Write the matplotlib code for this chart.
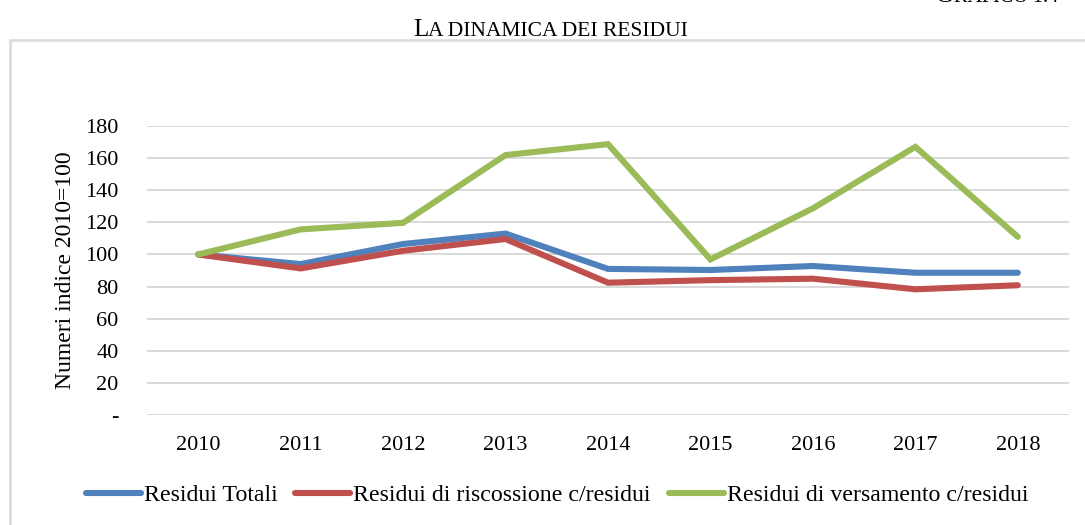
import matplotlib
matplotlib.use("Agg")
import matplotlib.pyplot as plt
from matplotlib.patches import Rectangle

years = ["2010", "2011", "2012", "2013", "2014", "2015", "2016", "2017", "2018"]
residui_totali = [100, 94, 106.5, 113, 91, 90.3, 92.8, 88.6, 88.6]
residui_riscossione = [100, 91.3, 102.3, 109.6, 82.4, 84, 84.9, 78.3, 80.8]
residui_versamento = [100, 115.6, 119.7, 161.9, 168.7, 96.9, 128.7, 167, 111]
series_names = ["Residui Totali", "Residui di riscossione c/residui",
                "Residui di versamento c/residui"]
yticks = [0, 20, 40, 60, 80, 100, 120, 140, 160, 180]
ytick_labels = ["-", "20", "40", "60", "80", "100", "120", "140", "160", "180"]

plt.rcParams['font.family'] = ['Liberation Serif', 'DejaVu Serif']

W, H = 1085, 525
fig = plt.figure(figsize=(W / 100, H / 100), dpi=100)

# outer chart border (light grey), extending off canvas to the right/bottom
fig.patches.append(Rectangle((10 / W, -0.1), 1.2, 1 - 40 / H + 0.1,
                             transform=fig.transFigure, fill=False,
                             edgecolor="#d9d9d9", linewidth=1.8))

ax = fig.add_axes([147 / W, 1 - 415 / H, (1069 - 147) / W, (415 - 126) / H])
x = list(range(len(years)))
colors = ["#4F81BD", "#C0504D", "#9BBB59"]
for vals, name, c in zip([residui_totali, residui_riscossione, residui_versamento],
                         series_names, colors):
    ax.plot(x, vals, color=c, linewidth=4.4, label=name,
            solid_capstyle="round", solid_joinstyle="miter")

ax.set_xlim(-0.5, len(years) - 0.5)
ax.set_ylim(0, 180)
ax.set_yticks(yticks)
ax.set_yticklabels(ytick_labels)
ax.set_xticks(x)
ax.set_xticklabels(years)
ax.tick_params(axis="both", length=0, labelsize=16, colors="#000000")
ax.tick_params(axis="y", pad=20.5)
ax.tick_params(axis="x", pad=15)
ax.grid(axis="y", color="#d9d9d9", linewidth=1.4)
ax.set_axisbelow(True)
for s in ax.spines.values():
    s.set_visible(False)
ax.set_ylabel("Numeri indice 2010=100", fontsize=17, labelpad=6.5)

leg = ax.legend(loc="center", bbox_to_anchor=(557 / W, 1 - 495 / H),
                bbox_transform=fig.transFigure, ncol=3, frameon=False,
                fontsize=17.2, handlelength=2.3, handletextpad=0.12,
                columnspacing=0.75)
for line in leg.get_lines():
    line.set_linewidth(4.4)

# Title in small caps
t1 = fig.text(413 / W, 1 - 36 / H, "L", fontsize=18, ha="left", va="baseline")
ax.annotate("A DINAMICA DEI RESIDUI", xy=(1, 0), xycoords=t1, fontsize=15.5,
            ha="left", va="bottom", annotation_clip=False)

# Top-right label, mostly cut off by the top edge (as in the reference)
g2 = fig.text(1058 / W, 1 - 2 / H, "RAFICO 1.4", fontsize=14.5, ha="right",
              va="baseline")
ax.annotate("G", xy=(0, 0), xycoords=g2, fontsize=17.5,
            ha="right", va="bottom", annotation_clip=False)

fig.savefig("out.png", dpi=100)
